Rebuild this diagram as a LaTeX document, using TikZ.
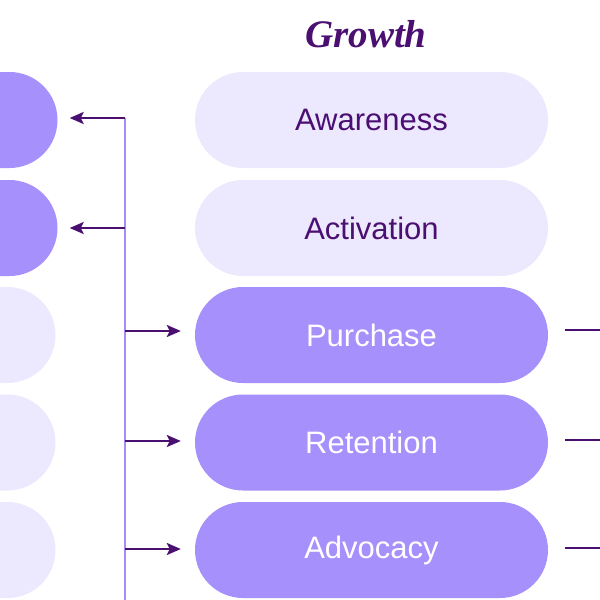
\documentclass[tikz,border=0pt]{standalone}
\usepackage{fontspec}
\setmainfont{Liberation Sans}
\newfontfamily\titlefont{Liberation Serif}
\usetikzlibrary{arrows.meta,calc}
\definecolor{deep}{HTML}{4A0F70}
\definecolor{pilldark}{HTML}{A690FB}
\definecolor{pilllight}{HTML}{ECE8FE}
\definecolor{linelight}{HTML}{A58CF8}
\tikzset{
  pill/.style={rectangle, rounded corners=48pt, minimum width=353pt, minimum height=96pt, inner sep=0pt, font=\fontsize{31}{33}\selectfont},
  darkpill/.style={pill, fill=pilldark, text=white},
  lightpill/.style={pill, fill=pilllight, text=deep},
  conn/.style={draw=deep, line width=2.5pt, -{Stealth[length=14pt,width=12pt,inset=3pt]}},
  plainconn/.style={draw=deep, line width=2.5pt},
  spine/.style={draw=linelight, line width=2pt}
}
\begin{document}
\begin{tikzpicture}[x=1pt,y=-1pt]
\useasboundingbox (0,0) rectangle (600,600);
\clip (0,0) rectangle (600,600);
\node[text=deep, font=\titlefont\bfseries\itshape\fontsize{39}{41}\selectfont] (title) at (366,34) {Growth};
% centre column
\node[lightpill] (aw) at (371.5,120) {Awareness};
\node[lightpill] (ac) at (371.5,228) {Activation};
\node[darkpill] (pu) at (371.5,335) {Purchase};
\node[darkpill] (re) at (371.5,442.5) {Retention};
\node[darkpill] (ad) at (371.5,550) {Advocacy};
% left column
\node[darkpill] (l1) at (-119,120) {};
\node[darkpill] (l2) at (-119,228) {};
\node[lightpill] (l3) at (-121,335) {};
\node[lightpill] (l4) at (-121,442.5) {};
\node[lightpill] (l5) at (-121,550) {};
% spine
\coordinate (stop) at (125,118);
\coordinate (sbot) at (125,605);
\draw[spine] (stop) -- (sbot);
% arrows to left
\draw[conn] (stop) -- ($(l1.east)+(12,-2)$);
\draw[conn] (stop |- l2) -- ($(l2.east)+(12,0)$);
% arrows to centre
\draw[conn] (stop |- 0,331) -- ($(pu.west)+(-14,-4)$);
\draw[conn] (stop |- 0,441) -- ($(re.west)+(-14,-1.5)$);
\draw[conn] (stop |- 0,549) -- ($(ad.west)+(-14,-1)$);
% right stubs
\coordinate (r1) at (610,330);
\coordinate (r2) at (610,440);
\coordinate (r3) at (610,548);
\draw[plainconn] ($(pu.east)+(17,-5)$) -- (r1);
\draw[plainconn] ($(re.east)+(17,-2.5)$) -- (r2);
\draw[plainconn] ($(ad.east)+(17,-2)$) -- (r3);
\end{tikzpicture}
\end{document}
